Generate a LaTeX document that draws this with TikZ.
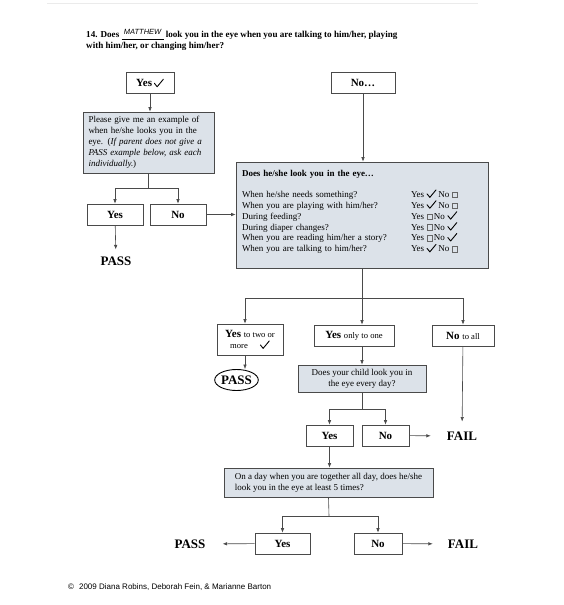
\documentclass[tikz,border=0pt]{standalone}
\usepackage{fontspec}
\setmainfont{Liberation Serif}
\newfontfamily\sansfont{Liberation Sans}
\usetikzlibrary{arrows.meta,shapes.geometric}
\definecolor{boxfill}{HTML}{DCE2E9}
\definecolor{boxline}{HTML}{4A4A4A}

% handwritten tick and empty answer box
\newcommand{\handcheck}{\tikz[baseline=0pt,x=1pt,y=1pt]\draw[line width=0.9pt,line cap=round,line join=round] (0,3.5) -- (2.8,0) -- (9,7.5);}
\newcommand{\optbox}{\tikz[baseline=0pt,x=1pt,y=1pt]\draw[line width=0.3pt,black!60] (0,0) rectangle (5,5.5);}
\newcommand{\qrow}[3]{\makebox[169pt][l]{#1}Yes\hspace{2.5pt}#2\hspace{2pt}No\hspace{2.5pt}#3}
\newcommand{\minor}[1]{{\fontsize{8.6}{10}\selectfont\mdseries #1}}

\begin{document}
\begin{tikzpicture}[x=1pt,y=-1pt,
  box/.style={draw=boxline, line width=0.6pt, fill=white, inner sep=2pt,
    font=\fontsize{11}{13}\selectfont\bfseries},
  shadebox/.style={box, fill=boxfill, font=\fontsize{9}{10.9}\selectfont},
  outcome/.style={font=\fontsize{13}{15}\selectfont\bfseries, inner sep=1pt},
  arr/.style={-{Latex[length=4.5pt,width=3.5pt]}, line width=0.6pt, draw=boxline},
  link/.style={line width=0.6pt, draw=boxline}]
\useasboundingbox (0,0) rectangle (564,605);

% scan edge
\draw[black!8, line width=0.8pt] (47,3) -- (478,3);

% question
\node[anchor=north west, align=left, inner sep=0,
  font=\fontsize{9.1}{11}\selectfont\bfseries] (qTitle) at (86,29)
  {14. Does \makebox[0pt][l]{\rule[-1.5pt]{42pt}{0.5pt}}\makebox[42pt]{\raisebox{3.5pt}{\mdseries\sansfont\itshape\fontsize{7.5}{8}\selectfont MATTHEW}} look you in the eye when you are talking to him/her, playing\\
   with him/her, or changing him/her?};

% first level
\node[box, minimum width=48, minimum height=21] (yesTop) at (150,83) {Yes\,\handcheck};
\node[box, minimum width=64, minimum height=21] (noTop) at (363,83) {No\ldots};

% example branch
\node[shadebox, minimum width=131, minimum height=61, text width=120, align=left] (askBox) at (148.5,142.5)
  {Please give me an example of\\ when he/she looks you in the\\ eye. (\textit{If parent does not give a}\\ \textit{PASS example below, ask each}\\ \textit{individually.})};
\node[box, minimum width=56, minimum height=21] (yesAsk) at (115,214.5) {Yes};
\node[box, minimum width=56, minimum height=21] (noAsk) at (178,214.5) {No};
\node[outcome] (passAsk) at (116,261) {PASS};

% checklist
\node[shadebox, minimum width=252, minimum height=106, text width=240, align=left] (eyeBox) at (362,215)
  {\textbf{Does he/she look you in the eye\ldots}\\[10pt]
   \qrow{When he/she needs something?}{\handcheck}{\optbox}\\
   \qrow{When you are playing with him/her?}{\handcheck}{\optbox}\\
   \qrow{During feeding?}{\optbox}{\handcheck}\\
   \qrow{During diaper changes?}{\optbox}{\handcheck}\\
   \qrow{When you are reading him/her a story?}{\optbox}{\handcheck}\\
   \qrow{When you are talking to him/her?}{\handcheck}{\optbox}\\[-3pt]\mbox{}};

% results of checklist
\node[box, minimum width=66, minimum height=31, align=center] (yesTwo) at (250,339.5)
  {Yes \minor{to two or}\\[-2pt] \minor{more}\hspace{12pt}\handcheck};
\node[box, minimum width=80, minimum height=21] (yesOne) at (354,335.5) {Yes \minor{only to one}};
\node[box, minimum width=62, minimum height=21] (noAll) at (463,335.5) {No \minor{to all}};
\node[outcome, ellipse, draw=black, line width=0.9pt, inner sep=0pt,
  minimum width=41, minimum height=21] (passTwo) at (236.5,380) {PASS};

% every day
\node[shadebox, minimum width=128, minimum height=27, align=center] (childBox) at (362,378.5)
  {Does your child look you in\\ the eye every day?};
\node[box, minimum width=47, minimum height=21] (yesChild) at (329.5,435.5) {Yes};
\node[box, minimum width=47, minimum height=21] (noChild) at (385.5,435.5) {No};
\node[outcome] (failChild) at (462,436) {FAIL};

% five times
\node[shadebox, minimum width=209, minimum height=29, align=left] (dayBox) at (328.5,482.5)
  {On a day when you are together all day, does he/she\\ look you in the eye at least 5 times?};
\node[box, minimum width=55, minimum height=21] (yesDay) at (282.5,543.5) {Yes};
\node[box, minimum width=48, minimum height=21] (noDay) at (378,543.5) {No};
\node[outcome] (passDay) at (190,544) {PASS};
\node[outcome] (failDay) at (463,544) {FAIL};

% copyright
\node[anchor=base west, inner sep=0, font=\sansfont\fontsize{8}{10}\selectfont] (copyNote) at (68,589)
  {©\hspace{5pt}2009 Diana Robins, Deborah Fein, \& Marianne Barton};

% connectors
\coordinate (askFork) at (148.5,188);
\coordinate (eyeFork) at (362,298);
\coordinate (twoTop) at (245,298);
\coordinate (allTop) at (463,298);
\coordinate (childFork) at (362,409);
\coordinate (dayFork) at (329,516);

\draw[arr] (yesTop.south) -- (yesTop.south |- askBox.north);
\draw[link] (askBox.south) -- (askFork);
\draw[arr] (askFork) -| (yesAsk.north);
\draw[arr] (askFork) -| (noAsk.north);
\draw[arr, shorten >=6pt] (yesAsk) -- (passAsk);
\draw[arr] (noAsk.east) -- (noAsk.east -| eyeBox.west);
\draw[arr] (noTop.south) -- (noTop.south |- eyeBox.north);

\draw[link] (eyeBox.south) -- (eyeFork);
\draw[link] (twoTop) -- (allTop);
\draw[arr] (twoTop) -- (twoTop |- yesTwo.north);
\draw[arr] (eyeFork) -- (eyeFork |- yesOne.north);
\draw[arr] (allTop) -- (noAll.north);
\draw[arr] (twoTop |- yesTwo.south) -- (twoTop |- passTwo.north);
\draw[arr] (eyeFork |- yesOne.south) -- (eyeFork |- childBox.north);
\draw[arr, shorten >=9pt] (noAll) -- (failChild);

\draw[link] (childBox.south) -- (childFork);
\draw[arr] (childFork) -| (yesChild.north);
\draw[arr] (childFork) -| (noChild.north);
\draw[arr, shorten >=15pt] (noChild) -- (failChild);
\draw[arr] (yesChild.south) -- (yesChild.south |- dayBox.north);

\draw[link] (dayBox.south) -- (dayFork);
\draw[arr] (dayFork) -| (yesDay.north);
\draw[arr] (dayFork) -| (noDay.north);
\draw[arr, shorten >=16pt] (yesDay) -- (passDay);
\draw[arr, shorten >=14pt] (noDay) -- (failDay);
\end{tikzpicture}
\end{document}
